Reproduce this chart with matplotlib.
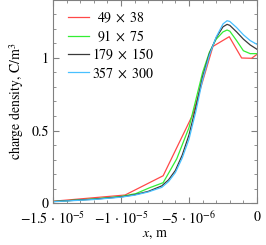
import numpy as np
import matplotlib.pyplot as plt
from matplotlib.ticker import MultipleLocator, FixedLocator

plt.rcParams['font.family'] = ['STIXGeneral', 'DejaVu Serif']
plt.rcParams['mathtext.fontset'] = 'stix'
plt.rcParams['font.size'] = 10

# data (x in micrometres)
x_49 = [-15, -9.7, -6.9, -4.72, -3.24, -2.04, -1.13, -0.4, 0]
y_49 = [0.012, 0.055, 0.188, 0.61, 1.08, 1.147, 1.0, 0.998, 1.025]

x_91 = [-15, -12, -10, -8.9, -7.9, -6.9, -5.9, -5.0, -4.0, -3.5, -3.0, -2.5, -2.2, -2.0, -1.5, -1.0, -0.5, 0]
y_91 = [0.01, 0.028, 0.045, 0.065, 0.105, 0.14, 0.305, 0.52, 0.9, 1.04, 1.13, 1.18, 1.193, 1.185, 1.12, 1.05, 1.03, 1.03]

x_179 = [-15, -12, -10, -9, -8, -7, -6.5, -6, -5.5, -5, -4.5, -4, -3.5, -3, -2.5, -2.2, -2, -1.5, -1, -0.5, 0]
y_179 = [0.01, 0.026, 0.042, 0.057, 0.08, 0.118, 0.16, 0.225, 0.33, 0.47, 0.66, 0.87, 1.03, 1.14, 1.215, 1.232, 1.225, 1.18, 1.13, 1.09, 1.06]

x_357 = [-15, -12, -10, -9, -8, -7, -6.5, -6, -5.5, -5, -4.5, -4, -3.5, -3, -2.5, -2.2, -2, -1.5, -1, -0.5, 0]
y_357 = [0.009, 0.024, 0.04, 0.054, 0.076, 0.108, 0.148, 0.21, 0.31, 0.44, 0.63, 0.85, 1.02, 1.145, 1.235, 1.257, 1.252, 1.21, 1.16, 1.12, 1.094]

labels = [r'$\enspace49\;\times\;38\enspace$', r'$\enspace91\;\times\;75\enspace$',
          r'$179\;\times\;150$', r'$357\;\times\;300$']
colors = ['#ff4848', '#33ee33', '#3a3a3a', '#48c0ff']
xtick_labels = [r'$-1.5\,\cdot\,10^{-5}$', r'$-1\,\cdot\,10^{-5}$', r'$-5\,\cdot\,10^{-6}$', '0']

fig = plt.figure(figsize=(2.66, 2.45), dpi=100)
ax = fig.add_axes([53/266, 42/245, 204/266, 203/245])

series = [(x_49, y_49), (x_91, y_91), (x_179, y_179), (x_357, y_357)]
for (xs, ys), lab, c in zip(series, labels, colors):
    ax.plot(np.array(xs) * 1e-6, ys, color=c, lw=0.9, label=lab)

ax.set_xlim(-1.5e-5, 0)
ax.set_ylim(0, 1.4)
ax.xaxis.set_major_locator(FixedLocator([-1.5e-5, -1e-5, -5e-6, 0]))
ax.set_xticklabels(xtick_labels)
ax.xaxis.set_minor_locator(MultipleLocator(1e-6))
ax.yaxis.set_major_locator(FixedLocator([0, 0.5, 1]))
ax.set_yticklabels(['0', '0.5', '1'])
ax.yaxis.set_minor_locator(MultipleLocator(0.1))
ax.tick_params(which='both', direction='in', top=True, right=True, color='0.5')
ax.tick_params(axis='x', pad=5.5)
ax.tick_params(axis='y', pad=3)
ax.tick_params(which='major', length=4.5)
ax.tick_params(which='minor', length=2.5)
for s in ax.spines.values():
    s.set_color('0.5')

ax.set_xlabel(r'$x$, m', labelpad=0)
ax.set_ylabel(r'charge density, C/m$^3$', labelpad=4)

ax.legend(loc='upper left', frameon=False, handlelength=1.55, handletextpad=0.2,
          labelspacing=0.22, borderaxespad=0.3, bbox_to_anchor=(0.025, 0.995))

fig.savefig('out.png', dpi=100)
